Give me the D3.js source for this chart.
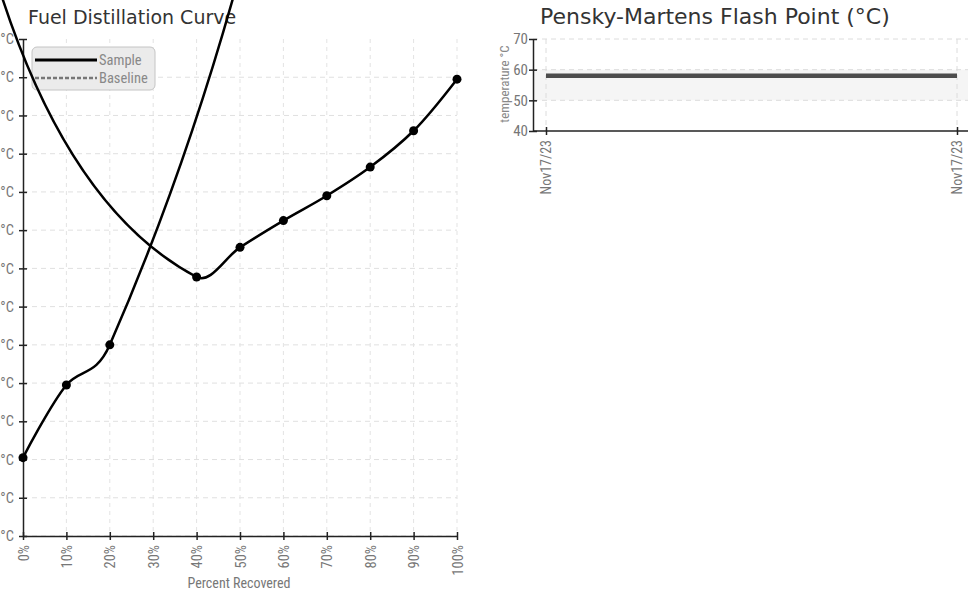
<!DOCTYPE html>
<html><head><meta charset="utf-8">
<script src="https://cdn.jsdelivr.net/npm/d3@7"></script>
<style>body{margin:0;background:#fff}svg{display:block}
.cond{font-family:Roboto,sans-serif;font-stretch:condensed}</style>
</head><body>
<svg id="c" width="971" height="592"></svg>
<script>
// ---- data ----
const recovered = [0,10,20,30,40,50,60,70,80,90,100];
const sampleTemps = [141,179,200,52500,235.5,251,265,278,293,312,339]; // 30% reading is an outlier far off-scale
const baselineTemps = [];
const yTicks = [100,120,140,160,180,200,220,240,260,280,300,320,340,360];
const seriesNames = ["Sample","Baseline"];
const flashDates = ["Nov17/23","Nov17/23"];
const flashValues = [58,58];
const flashBand = [50,60];
const flashTicks = [40,50,60,70];

// renderer coordinate limit (off-scale geometry is clamped, as in the source rendering)
const COORD_LIMIT = 3000;
function clampedContext(){
  const p = d3.path(), c = v => Math.max(-COORD_LIMIT, Math.min(COORD_LIMIT, v));
  return {
    moveTo:(a,b)=>p.moveTo(c(a),c(b)),
    lineTo:(a,b)=>p.lineTo(c(a),c(b)),
    bezierCurveTo:(a,b,e,f,g,h)=>p.bezierCurveTo(c(a),c(b),c(e),c(f),c(g),c(h)),
    closePath:()=>p.closePath(),
    toString:()=>p.toString()
  };
}

const svg = d3.select("#c");
const x = d3.scaleLinear([0,100],[23,457]);
const y = d3.scaleLinear([100,360],[536,39]);

svg.append("text").attr("x",28).attr("y",24).text("Fuel Distillation Curve")
  .style("font-family","'DejaVu Sans'").style("font-size","19px").style("fill","#333");

const g = svg.append("g");
g.selectAll(".hg").data(yTicks.slice(0,-1)).join("line")
 .attr("x1",x(0)).attr("x2",x(100)).attr("y1",d=>y(d)).attr("y2",d=>y(d))
 .style("stroke","#e0e0e0").style("stroke-dasharray","5,4");
g.selectAll(".vg").data(recovered.slice(1)).join("line")
 .attr("x1",d=>x(d)).attr("x2",d=>x(d)).attr("y1",y(360)).attr("y2",y(100))
 .style("stroke","#e3e3e3").style("stroke-dasharray","4,4");

const ya = g.append("g").attr("transform",`translate(${x(0)},0)`)
 .call(d3.axisLeft(y).tickValues(yTicks).tickFormat(d=>d+"°C").tickSize(4).tickSizeOuter(0).tickPadding(5));
ya.selectAll(".tick line").attr("x1",-4).attr("x2",4);
const xa = g.append("g").attr("transform",`translate(0,${y(100)})`)
 .call(d3.axisBottom(x).tickValues(recovered).tickFormat(d=>d+"%").tickSize(4).tickSizeOuter(0));
xa.selectAll(".tick line").attr("y1",-4).attr("y2",4);
xa.selectAll("text").attr("transform","rotate(-90)").attr("x",-9).attr("y",0).attr("dy","0.35em").style("text-anchor","end");
[ya,xa].forEach(a=>{a.select(".domain").style("stroke","#222").style("stroke-width",1.5);
  a.selectAll(".tick line").style("stroke","#222").style("stroke-width",1.5);
  a.selectAll("text").attr("class","cond").style("font-size","14.5px").style("fill","#777");});
svg.append("text").attr("class","cond").attr("x",239).attr("y",588).attr("text-anchor","middle").text("Percent Recovered")
  .style("font-size","14px").style("fill","#777");

// legend
const lg = svg.append("g");
lg.append("rect").attr("x",32).attr("y",47).attr("width",123).attr("height",43).attr("rx",5)
 .style("fill","#ebebeb").style("stroke","#c4c4c4");
lg.append("line").attr("x1",35).attr("x2",97).attr("y1",60).attr("y2",60).style("stroke","#000").style("stroke-width",3);
lg.append("line").attr("x1",35).attr("x2",97).attr("y1",78).attr("y2",78).style("stroke","#777").style("stroke-width",2.5).style("stroke-dasharray","4,2");
lg.selectAll(".lt").data(seriesNames).join("text").attr("class","cond").attr("x",99).attr("y",(d,i)=>65+i*18).text(d=>d)
 .style("font-size","14.5px").style("fill","#888");

// sample curve
const pts = recovered.map((p,i)=>({p,t:sampleTemps[i]}));
const line = d3.line().x(d=>x(d.p)).y(d=>y(d.t)).curve(d3.curveCatmullRom);
const ctx = clampedContext(); line.context(ctx)(pts);
svg.append("path").attr("d",ctx.toString()).style("fill","none").style("stroke","#000").style("stroke-width",2.5);
if (baselineTemps.length) svg.append("path").attr("d",d3.line().x(d=>x(d.p)).y(d=>y(d.t)).curve(d3.curveCatmullRom)(recovered.map((p,i)=>({p,t:baselineTemps[i]}))))
  .style("fill","none").style("stroke","#777").style("stroke-dasharray","4,2");
svg.selectAll(".dot").data(pts.filter(d=>y(d.t)>-COORD_LIMIT)).join("circle")
 .attr("cx",d=>x(d.p)).attr("cy",d=>y(d.t)).attr("r",4.5).style("fill","#000");

// ---- flash point chart ----
const fx = d3.scalePoint().domain(d3.range(flashDates.length)).range([546,957]);
const fy = d3.scaleLinear([40,70],[131,39]);
svg.append("text").attr("x",540).attr("y",24).text("Pensky-Martens Flash Point (°C)")
  .style("font-family","'DejaVu Sans'").style("font-size","22px").style("fill","#333");
const fg = svg.append("g");
fg.append("rect").attr("x",533).attr("width",968-533).attr("y",fy(flashBand[1])).attr("height",fy(flashBand[0])-fy(flashBand[1])).style("fill","#f5f5f5");
fg.selectAll(".fh").data(flashTicks.slice(1)).join("line").attr("x1",533).attr("x2",968)
 .attr("y1",d=>fy(d)).attr("y2",d=>fy(d)).style("stroke","#dcdcdc").style("stroke-dasharray","5,4");
fg.selectAll(".fv").data(d3.range(flashDates.length)).join("line").attr("x1",d=>fx(d)).attr("x2",d=>fx(d))
 .attr("y1",fy(70)).attr("y2",fy(40)).style("stroke","#dcdcdc").style("stroke-dasharray","5,4");
const fya = fg.append("g").attr("transform","translate(533,0)").call(d3.axisLeft(fy).tickValues(flashTicks).tickSize(4).tickSizeOuter(0).tickPadding(1));
fya.selectAll(".tick line").attr("x1",-4).attr("x2",4);
const fxa = fg.append("g").attr("transform",`translate(0,${fy(40)})`).call(d3.axisBottom(fx).tickFormat(i=>flashDates[i]).tickSize(4).tickSizeOuter(0));
fxa.select(".domain").attr("d","M533,0H968");
fxa.selectAll(".tick line").attr("y1",-4).attr("y2",4);
fxa.selectAll("text").attr("transform","rotate(-90)").attr("x",-9).attr("y",0).attr("dy","0.35em").style("text-anchor","end");
[fya,fxa].forEach(a=>{a.select(".domain").style("stroke","#222").style("stroke-width",1.5);
  a.selectAll(".tick line").style("stroke","#222").style("stroke-width",1.5);
  a.selectAll("text").attr("class","cond").style("fill","#777");});
fya.selectAll("text").style("font-size","15px");
fxa.selectAll("text").style("font-size","14px");
svg.append("text").attr("class","cond").attr("transform","translate(509,84) rotate(-90)").attr("text-anchor","middle").text("temperature °C")
  .style("font-size","13px").style("fill","#888");
const fl = d3.line().x((d,i)=>fx(i)).y(d=>fy(d));
fg.append("path").attr("d",fl(flashValues)).style("fill","none").style("stroke","#4d4d4d").style("stroke-width",4.5);
</script></body></html>
